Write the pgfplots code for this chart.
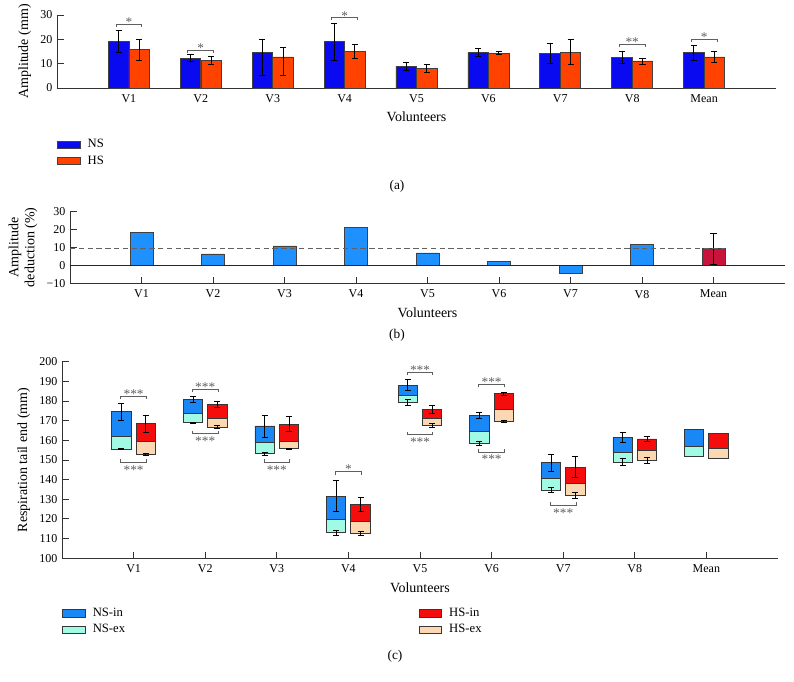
\documentclass[border=0pt]{standalone}
\usepackage{fontspec}
\setmainfont{Liberation Serif}
\usepackage{pgfplots}
\usepackage{pgfplotstable}
\pgfplotsset{compat=1.18}

\definecolor{nsA}{RGB}{10,10,240}
\definecolor{hsA}{RGB}{255,66,0}
\definecolor{barB}{RGB}{30,144,255}
\definecolor{meanB}{RGB}{200,20,60}
\definecolor{nsin}{RGB}{25,135,245}
\definecolor{nsex}{RGB}{160,250,228}
\definecolor{hsin}{RGB}{245,12,12}
\definecolor{hsex}{RGB}{252,216,178}
\definecolor{edge}{RGB}{55,55,55}
\definecolor{brk}{RGB}{95,95,95}

% panel (a): amplitude, NS and HS, with error bars (plus / minus)
\pgfplotstableread{
i ns nsp nsm hs hsp hsm
1 19.1 4.4 4.4 15.7 4.4 4.4
2 12.3 1.4 1.4 11.5 1.6 1.6
3 14.5 5.4 9.5 12.8 3.8 7.8
4 19.0 7.5 7.5 14.9 2.9 2.9
5 9.0 1.7 1.7 8.2 1.6 1.6
6 14.6 1.5 1.5 14.3 0.6 0.6
7 14.2 4.1 4.1 14.7 5.2 5.2
8 12.6 2.6 2.6 11.1 1.2 1.2
9 14.5 3.2 3.2 12.8 2.3 2.3
}\dataA

% panel (b): amplitude deduction (%)
\pgfplotstableread{
i val
1 18.2
2 6.3
3 10.7
4 21.1
5 6.8
6 2.0
7 -4.3
8 11.7
}\dataB

% panel (c): respiration tail end, ex (bottom), split, in (top)
\pgfplotstableread{
i nsbot nsmid nstop hsbot hsmid hstop
1 155.6 161.9 174.5 152.9 159.2 168.5
2 168.9 173.5 181.0 166.7 171.1 178.2
3 153.2 158.7 167.3 155.8 159.2 168.2
4 112.9 119.9 131.6 112.6 118.5 127.4
5 179.4 183.0 188.1 167.5 170.9 175.7
6 158.5 164.3 172.8 169.6 175.7 183.7
7 134.7 140.8 148.5 132.0 137.9 146.4
8 149.0 153.9 161.4 149.7 154.8 160.7
9 151.7 157.1 165.6 150.9 155.9 163.4
}\dataC

\pgfplotstableread{
i nstop nsine nsbot nsexe hstop hsine hsbot hsexe
1 174.5 4.3 155.6 0.3 168.5 4.4 152.9 0.4
2 181.0 1.5 168.9 0.3 178.2 1.5 166.7 0.8
3 167.3 5.6 153.2 0.9 168.2 3.9 155.8 0.3
4 131.6 7.9 112.9 1.2 127.4 3.6 112.6 1.2
5 188.1 2.9 179.4 1.6 175.7 2.0 167.5 1.0
6 172.8 1.4 158.5 0.9 183.7 0.9 169.6 0.7
7 148.5 4.2 134.7 1.1 146.4 5.4 132.0 1.4
8 161.4 2.6 149.0 1.8 160.7 1.3 149.7 1.4
}\dataCerr

\pgfplotsset{
  base/.style={
    scale only axis, anchor=south west,
    xmin=0, xmax=10,
    axis x line=bottom, axis y line=left,
    axis line style={-, line width=0.7pt, black!80},
    tick align=inside,
    tick style={line width=0.7pt, black!80},
    major tick length=5pt,
    xtick={1,...,9},
    xticklabels={V1,V2,V3,V4,V5,V6,V7,V8,Mean},
    xticklabel style={yshift=-1.5pt},
    /pgf/number format/assume math mode=true,
    tick label style={font=\fontsize{9}{10}\selectfont},
    label style={font=\fontsize{10.5}{12}\selectfont},
    clip=false,
    legend cell align=left,
    legend style={draw=none, fill=none, inner sep=0pt,
      font=\fontsize{9.5}{11}\selectfont, nodes={inner sep=1.2pt}, row sep=2pt,
      /tikz/every odd column/.append style={column sep=4pt}},
  },
  over/.style={scale only axis, anchor=south west, xmin=0, xmax=10, hide axis, clip=false},
  eb/.style={draw=none, mark=none, forget plot,
    error bars/y dir=both, error bars/y explicit,
    error bars/error bar style={draw=black, line width=0.6pt},
    error bars/error mark options={rotate=90, draw=black, mark size=2.3pt, line width=0.6pt}},
  bk/.style={brk, line width=0.6pt, mark=none, forget plot},
}
\newcommand\starfont{\fontsize{10}{10}\selectfont}

\begin{document}
\begin{tikzpicture}
\useasboundingbox (0pt,0pt) rectangle (595.5pt,-511.5pt);

%================ (a)
\begin{axis}[base, at={(42.75pt,-66pt)}, width=539.25pt, height=54.75pt,
  ymin=0, ymax=30, ytick={0,10,20,30},
  xtick style={draw=none},
  ylabel={Amplitude (mm)}, xlabel={Volunteers},
  legend style={at={(axis description cs:0,-0.68)}, anchor=north west}]
\addplot[ybar, area legend, bar width=0.285, bar shift=-0.143, fill=nsA, draw=black!75, line width=0.5pt]
  table[x=i, y=ns] \dataA;
\addlegendentry{NS}
\addplot[ybar, area legend, bar width=0.285, bar shift=0.143, fill=hsA, draw=black!75, line width=0.5pt]
  table[x=i, y=hs] \dataA;
\addlegendentry{HS}
\addplot[eb] table[x expr=\thisrow{i}-0.143, y=ns, y error plus=nsp, y error minus=nsm] \dataA;
\addplot[eb] table[x expr=\thisrow{i}+0.143, y=hs, y error plus=hsp, y error minus=hsm] \dataA;
% significance brackets
\addplot[bk] coordinates {(0.82,25.2) (0.82,26.3) (1.18,26.3) (1.18,25.2)};
\addplot[bk] coordinates {(1.82,14.5) (1.82,15.6) (2.18,15.6) (2.18,14.5)};
\addplot[bk] coordinates {(3.82,27.8) (3.82,28.9) (4.18,28.9) (4.18,27.8)};
\addplot[bk] coordinates {(7.82,16.9) (7.82,18.0) (8.18,18.0) (8.18,16.9)};
\addplot[bk] coordinates {(8.82,19.0) (8.82,20.1) (9.18,20.1) (9.18,19.0)};
\node[brk, font=\starfont, anchor=base, yshift=-2pt] at (axis cs:1,26.3) {*};
\node[brk, font=\starfont, anchor=base, yshift=-2pt] at (axis cs:2,15.6) {*};
\node[brk, font=\starfont, anchor=base, yshift=-2pt] at (axis cs:4,28.9) {*};
\node[brk, font=\starfont, anchor=base, yshift=-2pt] at (axis cs:8,18.0) {**};
\node[brk, font=\starfont, anchor=base, yshift=-2pt] at (axis cs:9,20.1) {*};
\end{axis}
\node[font=\fontsize{10}{12}\selectfont] at (297.75pt,-139.5pt) {(a)};

%================ (b)
\begin{axis}[base, at={(52.5pt,-212.5pt)}, width=536.25pt, height=54.2pt,
  ymin=-10, ymax=30, ytick={-10,0,10,20,30}, yticklabels={−10,0,10,20,30},
  ylabel={Amplitude\\deduction (\%)}, ylabel style={align=center},
  xlabel={Volunteers}]
\addplot[ybar, bar width=0.32, fill=barB, draw=black!75, line width=0.5pt] table[x=i, y=val] \dataB;
\addplot[ybar, bar width=0.32, fill=meanB, draw=black!75, line width=0.5pt] coordinates {(9,9.1)};
\addplot[eb] coordinates {(9,9.1) +- (0,8.5)};
\addplot[black!85, line width=0.7pt, mark=none] coordinates {(0,0) (10,0)};
\addplot[black!62, dash pattern=on 4pt off 2.6pt, line width=0.8pt, mark=none] coordinates {(0,9.1) (9.16,9.1)};
\end{axis}
\node[font=\fontsize{10}{12}\selectfont] at (297.75pt,-251.25pt) {(b)};

%================ (c) NS boxes + axis
\begin{axis}[base, at={(46.5pt,-418.7pt)}, width=537pt, height=147.45pt,
  ymin=100, ymax=200, ytick={100,110,...,200},
  ylabel={Respiration tail end (mm)}, xlabel={Volunteers},
  ybar stacked, bar width=0.27, bar shift=-0.17]
\addplot[draw=none, fill=none] table[x=i, y=nsbot] \dataC;
\addplot[fill=nsex, draw=edge, line width=0.65pt] table[x=i, y expr=\thisrow{nsmid}-\thisrow{nsbot}] \dataC;
\addplot[fill=nsin, draw=edge, line width=0.65pt] table[x=i, y expr=\thisrow{nstop}-\thisrow{nsmid}] \dataC;
\end{axis}
% HS boxes
\begin{axis}[over, at={(46.5pt,-418.7pt)}, width=537pt, height=147.45pt,
  ymin=100, ymax=200, ybar stacked, bar width=0.27, bar shift=0.17]
\addplot[draw=none, fill=none] table[x=i, y=hsbot] \dataC;
\addplot[fill=hsex, draw=edge, line width=0.65pt] table[x=i, y expr=\thisrow{hsmid}-\thisrow{hsbot}] \dataC;
\addplot[fill=hsin, draw=edge, line width=0.65pt] table[x=i, y expr=\thisrow{hstop}-\thisrow{hsmid}] \dataC;
\end{axis}
% error bars, brackets, legend
\begin{axis}[over, at={(46.5pt,-418.7pt)}, width=537pt, height=147.45pt,
  ymin=100, ymax=200,
  legend columns=2, legend cell align=left,
  legend style={draw=none, fill=none, inner sep=0pt,
    font=\fontsize{9.5}{11}\selectfont, nodes={inner sep=1.2pt}, row sep=2pt,
    at={(axis description cs:0,-0.245)}, anchor=north west,
    /tikz/every odd column/.append style={column sep=4pt},
    /tikz/every even column/.append style={column sep=219pt}}]
\addlegendimage{area legend, fill=nsin, draw=edge, line width=0.6pt}
\addlegendentry{NS-in}
\addlegendimage{area legend, fill=hsin, draw=edge, line width=0.6pt}
\addlegendentry{HS-in}
\addlegendimage{area legend, fill=nsex, draw=edge, line width=0.6pt}
\addlegendentry{NS-ex}
\addlegendimage{area legend, fill=hsex, draw=edge, line width=0.6pt}
\addlegendentry{HS-ex}
\addplot[eb] table[x expr=\thisrow{i}-0.17, y=nstop, y error=nsine] \dataCerr;
\addplot[eb] table[x expr=\thisrow{i}-0.17, y=nsbot, y error=nsexe] \dataCerr;
\addplot[eb] table[x expr=\thisrow{i}+0.17, y=hstop, y error=hsine] \dataCerr;
\addplot[eb] table[x expr=\thisrow{i}+0.17, y=hsbot, y error=hsexe] \dataCerr;
% top brackets
\addplot[bk] coordinates {(0.82,180.8) (0.82,182.3) (1.18,182.3) (1.18,180.8)};
\addplot[bk] coordinates {(1.82,184.6) (1.82,186.1) (2.18,186.1) (2.18,184.6)};
\addplot[bk] coordinates {(3.82,142.5) (3.82,144.0) (4.18,144.0) (4.18,142.5)};
\addplot[bk] coordinates {(4.82,193.2) (4.82,194.7) (5.18,194.7) (5.18,193.2)};
\addplot[bk] coordinates {(5.82,186.9) (5.82,188.4) (6.18,188.4) (6.18,186.9)};
% bottom brackets
\addplot[bk] coordinates {(0.82,150.3) (0.82,148.8) (1.18,148.8) (1.18,150.3)};
\addplot[bk] coordinates {(1.82,164.9) (1.82,163.4) (2.18,163.4) (2.18,164.9)};
\addplot[bk] coordinates {(2.82,150.3) (2.82,148.8) (3.18,148.8) (3.18,150.3)};
\addplot[bk] coordinates {(4.82,164.4) (4.82,162.9) (5.18,162.9) (5.18,164.4)};
\addplot[bk] coordinates {(5.82,155.6) (5.82,154.1) (6.18,154.1) (6.18,155.6)};
\addplot[bk] coordinates {(6.82,128.4) (6.82,126.9) (7.18,126.9) (7.18,128.4)};
\node[brk, font=\starfont, anchor=base, yshift=-1.5pt] at (axis cs:1,182.3) {***};
\node[brk, font=\starfont, anchor=base, yshift=-1.5pt] at (axis cs:2,186.1) {***};
\node[brk, font=\starfont, anchor=base, yshift=-1.5pt] at (axis cs:4,144.0) {*};
\node[brk, font=\starfont, anchor=base, yshift=-1.5pt] at (axis cs:5,194.7) {***};
\node[brk, font=\starfont, anchor=base, yshift=-1.5pt] at (axis cs:6,188.4) {***};
\node[brk, font=\starfont, anchor=base, yshift=-9pt] at (axis cs:1,148.8) {***};
\node[brk, font=\starfont, anchor=base, yshift=-9pt] at (axis cs:2,163.4) {***};
\node[brk, font=\starfont, anchor=base, yshift=-9pt] at (axis cs:3,148.8) {***};
\node[brk, font=\starfont, anchor=base, yshift=-9pt] at (axis cs:5,162.9) {***};
\node[brk, font=\starfont, anchor=base, yshift=-9pt] at (axis cs:6,154.1) {***};
\node[brk, font=\starfont, anchor=base, yshift=-9pt] at (axis cs:7,126.9) {***};
\end{axis}
\node[font=\fontsize{10}{12}\selectfont] at (296.25pt,-492pt) {(c)};
\end{tikzpicture}
\end{document}
